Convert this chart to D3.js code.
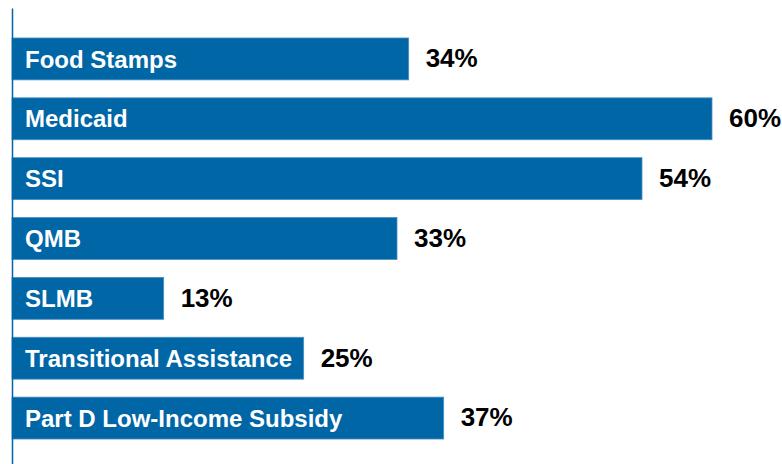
<!DOCTYPE html>
<html>
<head>
<meta charset="utf-8">
<script src="https://cdn.jsdelivr.net/npm/d3@7"></script>
<style>
  html, body { margin: 0; padding: 0; background: #fff; }
  svg { display: block; }
</style>
</head>
<body>
<svg id="chart" width="782" height="464"></svg>
<script>
// 各プログラムの利用率（%）
const programs = ['Food Stamps', 'Medicaid', 'SSI', 'QMB', 'SLMB', 'Transitional Assistance', 'Part D Low-Income Subsidy'];
const shares = [34, 60, 54, 33, 13, 25, 37];

const width = 782;
const height = 464;
const svg = d3.select('#chart');

const x = d3.scaleLinear()
  .domain([0, 60])
  .range([12, 712]);

const y = d3.scaleBand()
  .domain(programs)
  .range([29, 448])
  .paddingInner(0.3)
  .paddingOuter(0.15);

// 棒
svg.selectAll('rect.bar')
  .data(shares)
  .enter()
  .append('rect')
  .attr('class', 'bar')
  .attr('x', x(0))
  .attr('y', (d, i) => y(programs[i]))
  .attr('width', d => x(d) - x(0))
  .attr('height', y.bandwidth())
  .attr('fill', '#0066a6')
  .attr('stroke', '#4a8fc4')
  .attr('stroke-width', 0.8);

// 棒の中のラベル
svg.selectAll('text.cat')
  .data(programs)
  .enter()
  .append('text')
  .attr('class', 'cat')
  .attr('x', x(0) + 13)
  .attr('y', d => y(d) + y.bandwidth() / 2)
  .attr('dy', '0.36em')
  .attr('fill', '#fff')
  .style('font-family', '"Liberation Sans", Arial, sans-serif')
  .style('font-weight', 'bold')
  .style('font-size', '24px')
  .text(d => d);

// 値のラベル
svg.selectAll('text.val')
  .data(shares)
  .enter()
  .append('text')
  .attr('class', 'val')
  .attr('x', d => x(d) + 17)
  .attr('y', (d, i) => y(programs[i]) + y.bandwidth() / 2 - 1)
  .attr('dy', '0.36em')
  .attr('fill', '#000')
  .style('font-family', '"Liberation Sans", Arial, sans-serif')
  .style('font-weight', 'bold')
  .style('font-size', '26px')
  .text(d => d + '%');

// y軸（線のみ）
svg.append('g')
  .attr('class', 'axis axis--y')
  .attr('transform', 'translate(12, 0)')
  .call(d3.axisLeft(d3.scaleLinear().range([8, height])).ticks(0).tickSize(0).tickFormat(''))
  .call(g => g.select('.domain').attr('stroke', '#0066a6').attr('stroke-width', 1.5));
</script>
</body>
</html>
